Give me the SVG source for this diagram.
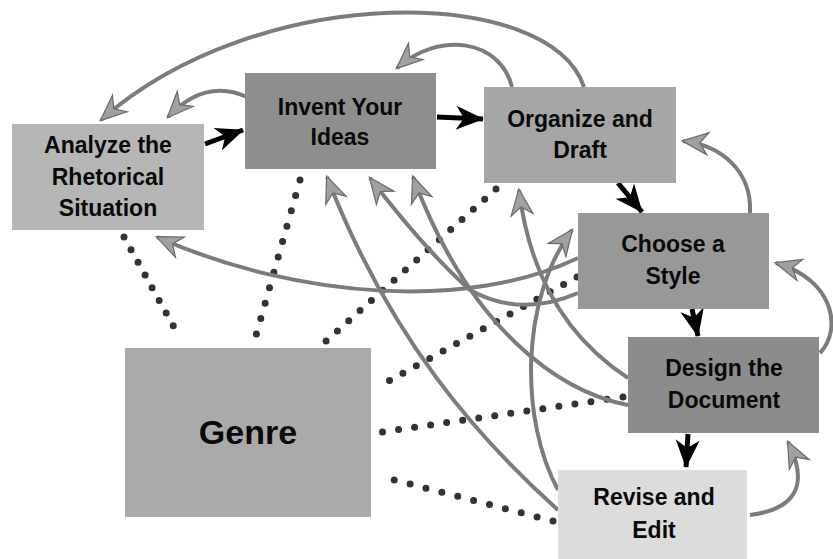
<svg xmlns="http://www.w3.org/2000/svg" width="833" height="559" viewBox="0 0 833 559">
<style>
.box{stroke:none}
.lbl{font-family:"Liberation Sans",Arial,sans-serif;font-weight:bold;font-size:23px;fill:#0a0a0a;text-anchor:middle}
.g{fill:none;stroke:#7c7c7c;stroke-width:4;marker-end:url(#ga)}
.k{fill:none;stroke:#000;stroke-width:5;marker-end:url(#ka)}
.dot{fill:none;stroke:#333;stroke-width:7;stroke-linecap:round}
</style>
<defs>
<marker id="ga" markerUnits="userSpaceOnUse" markerWidth="30" markerHeight="26" viewBox="-27 -13 30 26" refX="0" refY="0" orient="auto">
<path d="M1,0 L-25,-11 L-17,0 L-25,11 Z" fill="#a0a0a0" stroke="#6a6a6a" stroke-width="1.2"/>
</marker>
<marker id="ka" markerUnits="userSpaceOnUse" markerWidth="32" markerHeight="28" viewBox="-29 -14 32 28" refX="0" refY="0" orient="auto">
<path d="M1,0 L-27,-12 L-19,0 L-27,12 Z" fill="#000"/>
</marker>
</defs>

<g id="connectors">
<!-- dotted genre links -->
<path class="dot" stroke-dasharray="0 14.5" d="M124,237 L180,338"/>
<path class="dot" stroke-dasharray="0 16" d="M300,180 L255,339"/>
<path class="dot" stroke-dasharray="0 15.2" d="M496,189 L325,342"/>
<path class="dot" stroke-dasharray="0 15.3" d="M577,277 L378,387"/>
<path class="dot" stroke-dasharray="0 16.2" d="M623,397 L382,432"/>
<path class="dot" stroke-dasharray="0 16.4" d="M553,521 L379,476"/>
<!-- gray feedback arrows -->
<path class="g" d="M247,97 Q205,78 168,117"/>
<path class="g" d="M584,87 C550,-15 260,-20 101,120"/>
<path class="g" d="M512,87 C500,40 440,30 397,68"/>
<path class="g" d="M750,213 C752,170 720,145 683,141"/>
<path class="g" d="M820,353 C842,330 835,280 776,263"/>
<path class="g" d="M750,515 C790,510 812,490 788,442"/>
<path class="g" d="M578,258 C470,310 300,300 157,237"/>
<path class="g" d="M578,293 Q520,318 470,290 Q425,250 370,178"/>
<path class="g" d="M628,405 C560,392 470,330 413,177"/>
<path class="g" d="M558,510 C480,440 390,340 327,177"/>
<path class="g" d="M628,378 C570,340 530,280 519,190"/>
<path class="g" d="M558,490 C520,420 520,300 572,230"/>
<!-- black forward arrows -->
<path class="k" d="M205,144 L243,130"/>
<path class="k" d="M437,117 L483,119"/>
<path class="k" d="M618,183 L642,212"/>
<path class="k" d="M692,309 L698,336"/>
<path class="k" d="M688,434 L686,467"/>
</g>

<g id="analyze">
<rect class="box" x="12" y="124" width="192" height="106" fill="#b6b6b6"/>
<text class="lbl" x="108" y="153">Analyze the</text>
<text class="lbl" x="108" y="185">Rhetorical</text>
<text class="lbl" x="108" y="216">Situation</text>
</g>
<g id="invent">
<rect class="box" x="245" y="73" width="191" height="96" fill="#8e8e8e"/>
<text class="lbl" x="340" y="115">Invent Your</text>
<text class="lbl" x="340" y="145">Ideas</text>
</g>
<g id="organize">
<rect class="box" x="484" y="87" width="192" height="96" fill="#a6a6a6"/>
<text class="lbl" x="580" y="127">Organize and</text>
<text class="lbl" x="580" y="158">Draft</text>
</g>
<g id="choose">
<rect class="box" x="578" y="213" width="191" height="96" fill="#989898"/>
<text class="lbl" x="673" y="252">Choose a</text>
<text class="lbl" x="673" y="284">Style</text>
</g>
<g id="design">
<rect class="box" x="628" y="337" width="191" height="96" fill="#8c8c8c"/>
<text class="lbl" x="724" y="376">Design the</text>
<text class="lbl" x="724" y="408">Document</text>
</g>
<g id="revise">
<rect class="box" x="558" y="470" width="189" height="89" fill="#dcdcdc"/>
<text class="lbl" x="654" y="505">Revise and</text>
<text class="lbl" x="654" y="538">Edit</text>
</g>
<g id="genre">
<rect class="box" x="125" y="348" width="246" height="169" fill="#aaaaaa"/>
<text class="lbl" x="248" y="444" style="font-size:34px">Genre</text>
</g>
</svg>
